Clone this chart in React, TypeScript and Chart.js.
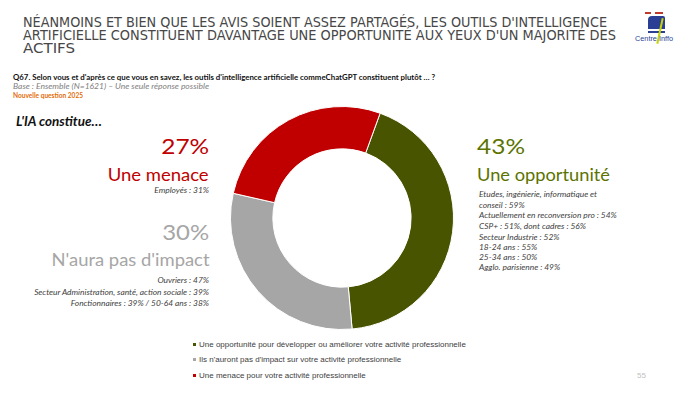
import React, { useEffect, useLayoutEffect, useRef } from "react";
import { Chart, registerables } from "chart.js";

Chart.register(...registerables);

const categories = [
  "Une opportunité pour développer ou améliorer votre activité professionnelle",
  "Ils n'auront pas d'impact sur votre activité professionnelle",
  "Une menace pour votre activité professionnelle",
];
const shares = [43, 30, 27];
const sliceColors = ["#485400", "#A6A6A6", "#C00000"];

const opportunityDetails = [
  "Etudes, ingénierie, informatique et",
  "conseil : 59%",
  "Actuellement en reconversion pro : 54%",
  "CSP+ : 51%, dont cadres : 56%",
  "Secteur Industrie : 52%",
  "18-24 ans : 55%",
  "25-34 ans : 50%",
  "Agglo. parisienne : 49%",
];
const threatDetails = ["Employés : 31%"];
const noImpactDetails = [
  "Ouvriers : 47%",
  "Secteur Administration, santé, action sociale : 39%",
  "Fonctionnaires : 39% / 50-64 ans : 38%",
];

const titleLines = [
  "NÉANMOINS ET BIEN QUE LES AVIS SOIENT ASSEZ PARTAGÉS, LES OUTILS D'INTELLIGENCE",
  "ARTIFICIELLE CONSTITUENT DAVANTAGE UNE OPPORTUNITÉ AUX YEUX D'UN MAJORITÉ DES",
  "ACTIFS",
];

const lato = "Lato, 'Open Sans', sans-serif";
const dejavu = "'DejaVu Sans', sans-serif";
const arial = "'Liberation Sans', Arial, sans-serif";

type TxtProps = {
  x: number;
  y: number;
  w?: number;
  size: number;
  lh?: number;
  family?: string;
  weight?: string;
  italic?: boolean;
  color?: string;
  align?: "left" | "right";
  children: React.ReactNode;
};

function Txt({ x, y, w, size, lh, family = lato, weight = "normal", italic = false, color = "#404040", align = "left", children }: TxtProps) {
  const ref = useRef<HTMLDivElement | null>(null);
  useLayoutEffect(() => {
    const el = ref.current;
    if (!el || !w) return;
    el.style.transform = "none";
    const nat = el.getBoundingClientRect().width;
    if (nat > 0) el.style.transform = `scaleX(${w / nat})`;
  }, [w, children]);
  const lineH = lh ?? size * 1.2;
  const style: React.CSSProperties = {
    position: "absolute",
    top: y - lineH / 2,
    whiteSpace: "nowrap",
    fontFamily: family,
    fontSize: size,
    lineHeight: `${lineH}px`,
    fontWeight: weight as any,
    fontStyle: italic ? "italic" : "normal",
    color,
    transformOrigin: align === "left" ? "left center" : "right center",
  };
  if (align === "left") style.left = x;
  else style.right = 700 - x;
  return (
    <div ref={ref} style={style}>
      {children}
    </div>
  );
}

export default function App() {
  const ref = useRef<HTMLCanvasElement | null>(null);

  useEffect(() => {
    document.body.style.margin = "0";
    const chart = new Chart(ref.current as HTMLCanvasElement, {
      type: "doughnut",
      data: {
        labels: categories,
        datasets: [
          {
            data: shares,
            backgroundColor: sliceColors,
            borderColor: "#ffffff",
            borderWidth: 1,
          },
        ],
      },
      options: {
        animation: false,
        responsive: false,
        devicePixelRatio: 1,
        rotation: 20,
        cutout: "62%",
        layout: { padding: 0 },
        plugins: { legend: { display: false }, tooltip: { enabled: false } },
      },
    });
    return () => chart.destroy();
  }, []);

  const titleWidths = [584, 593, 52];
  const oppY = [194, 204.5, 215, 226, 236.5, 247, 257, 267];
  const noImpY = [280, 291.5, 303];

  return (
    <div style={{ position: "relative", width: 700, height: 394, background: "#fff", overflow: "hidden" }}>
      {titleLines.map((t, i) => (
        <Txt key={t} x={23} y={22 + i * 13.3} w={titleWidths[i]} size={13.5} lh={13} family={dejavu} color="#474747">
          {t}
        </Txt>
      ))}

      {/* Logo */}
      <div style={{ position: "absolute", left: 645, top: 12, width: 6, height: 2, background: "#c0392b" }} />
      <div style={{ position: "absolute", left: 655, top: 12, width: 8, height: 2, background: "#c0392b" }} />
      <div style={{ position: "absolute", left: 648, top: 16, width: 17, height: 13, background: "#2a3f93", borderRadius: "4px 2px 0 0" }} />
      <div style={{ position: "absolute", left: 648, top: 31, width: 17, height: 2, background: "#2a3f93" }} />
      <div style={{ position: "absolute", left: 659, top: 18, width: 2, height: 26, background: "#c8d400", transform: "rotate(12deg)" }} />
      <Txt x={635} y={39} w={38} size={8} family={arial} color="#2a3f93">
        Centre Inffo
      </Txt>

      <Txt x={13} y={77} w={422} size={8} lh={8} weight="bold" color="#111">
        Q67. Selon vous et d'après ce que vous en savez, les outils d'intelligence artificielle commeChatGPT constituent plutôt … ?
      </Txt>
      <Txt x={13} y={85.5} w={196} size={7} lh={8} italic color="#808080">
        Base : Ensemble (N=1621) – Une seule réponse possible
      </Txt>
      <Txt x={13} y={95} w={70} size={6.5} lh={7} weight="bold" color="#E36C0A">
        Nouvelle question 2025
      </Txt>

      <Txt x={16} y={122} w={86} size={13} weight="bold" italic color="#111">
        L'IA constitue…
      </Txt>

      {/* Threat */}
      <Txt x={209} y={146} w={48} size={21} color="#C00000" align="right">
        {shares[2]}%
      </Txt>
      <Txt x={209} y={174} w={101} size={17.5} color="#C00000" align="right">
        Une menace
      </Txt>
      {threatDetails.map((t) => (
        <Txt key={t} x={209} y={190} size={8.4} lh={10} italic color="#404040" align="right">
          {t}
        </Txt>
      ))}

      {/* No impact */}
      <Txt x={209} y={232} w={47} size={21} color="#A6A6A6" align="right">
        {shares[1]}%
      </Txt>
      <Txt x={209} y={260} w={158} size={18} color="#A6A6A6" align="right">
        N'aura pas d'impact
      </Txt>
      {noImpactDetails.map((t, i) => (
        <Txt key={t} x={209} y={noImpY[i]} size={8.4} lh={10} italic color="#404040" align="right">
          {t}
        </Txt>
      ))}

      {/* Opportunity */}
      <Txt x={477} y={145.5} w={48} size={21} color="#5C7300">
        {shares[0]}%
      </Txt>
      <Txt x={477} y={174} w={133} size={17.5} color="#5C7300">
        Une opportunité
      </Txt>
      {opportunityDetails.map((t, i) => (
        <Txt key={t} x={479} y={oppY[i]} size={8.4} lh={10} italic color="#404040">
          {t}
        </Txt>
      ))}

      <canvas
        ref={ref}
        width={224}
        height={224}
        style={{ position: "absolute", left: 230, top: 106, width: 224, height: 224 }}
      />

      {/* Legend */}
      <div style={{ position: "absolute", left: 193, top: 336.5, fontFamily: arial, fontSize: 8, color: "#404040", lineHeight: "15.5px", whiteSpace: "nowrap" }}>
        {categories.map((c, i) => (
          <div key={c} style={{ display: "flex", alignItems: "center" }}>
            <span style={{ display: "inline-block", width: 3, height: 3, background: sliceColors[i], marginRight: 3 }} />
            {c}
          </div>
        ))}
      </div>

      <Txt x={637} y={376} size={8} family={arial} color="#bfbfbf">
        55
      </Txt>
    </div>
  );
}
